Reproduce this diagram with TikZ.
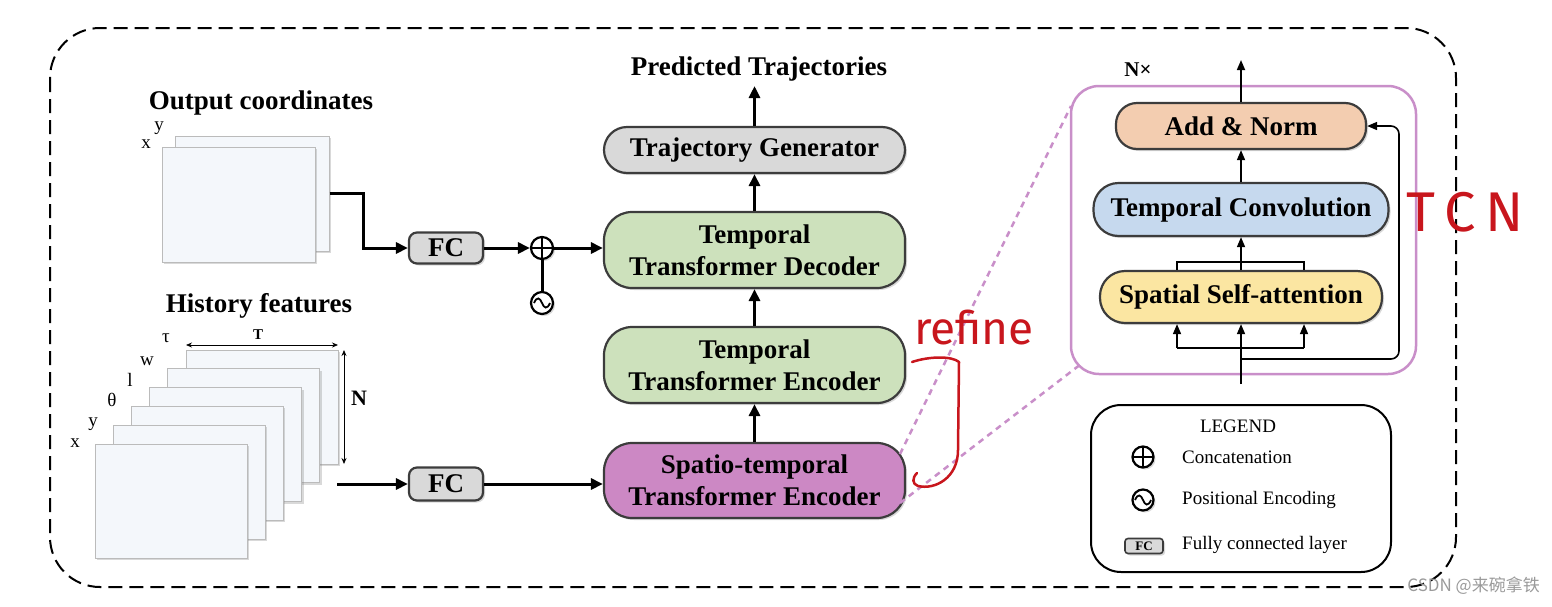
\documentclass[tikz,border=0pt]{standalone}
\usepackage{fontspec}
\setmainfont{Liberation Serif}
\newfontfamily\hand{Fira Sans}
\newfontfamily\cjk{Noto Sans CJK SC}
\usetikzlibrary{arrows.meta,shadows,calc}
\definecolor{bordc}{HTML}{3C3C3C}
\definecolor{planef}{HTML}{F4F7FB}
\definecolor{planeb}{HTML}{BBBBBB}
\definecolor{grayf}{HTML}{D9D9D9}
\definecolor{greenf}{HTML}{CDE1BC}
\definecolor{purplef}{HTML}{CC88C4}
\definecolor{peachf}{HTML}{F3CDB0}
\definecolor{bluef}{HTML}{C6D9EE}
\definecolor{yellowf}{HTML}{FBE6A2}
\definecolor{pinkc}{HTML}{C98FC9}
\definecolor{redc}{HTML}{C8161D}
\definecolor{wmark}{HTML}{9A9A9A}
\begin{document}
\begin{tikzpicture}[x=1pt,y=-1pt,
  shd/.style={drop shadow={shadow xshift=2pt,shadow yshift=-2pt,opacity=0.3}},
  blk/.style={draw=bordc,line width=2.2pt,align=center,inner sep=0pt,
    font=\bfseries\fontsize{27}{32}\selectfont,shd},
  plane/.style={draw=planeb,line width=1pt,fill=planef,inner sep=0pt,
    minimum width=152pt,minimum height=114pt,shd},
  lbl/.style={font=\fontsize{19}{22}\selectfont,inner sep=0pt},
  bigl/.style={font=\bfseries\fontsize{27}{30}\selectfont,inner sep=0pt},
  leg/.style={font=\fontsize{19}{22}\selectfont,inner sep=0pt,anchor=west},
  arr/.style={line width=3pt,-{Triangle[length=12pt,width=11pt]}},
  tarr/.style={line width=1.6pt,-{Triangle[length=10pt,width=8pt]}},
  darr/.style={line width=0.8pt,{Stealth[length=6pt,width=5pt]}-{Stealth[length=6pt,width=5pt]}},
  concat/.style={circle,draw=black,line width=2.2pt,minimum size=#1,inner sep=0pt,fill=white,shd,
    path picture={\draw[line width=2.2pt] (path picture bounding box.north) -- (path picture bounding box.south)
      (path picture bounding box.west) -- (path picture bounding box.east);}},
  posenc/.style={circle,draw=black,line width=2.2pt,minimum size=#1,inner sep=0pt,fill=white,shd,
    path picture={\draw[line width=1.8pt] ([xshift=-8pt]path picture bounding box.center)
      .. controls ([xshift=-5pt,yshift=7pt]path picture bounding box.center) and ([xshift=-2pt,yshift=5pt]path picture bounding box.center) .. (path picture bounding box.center)
      .. controls ([xshift=2pt,yshift=-5pt]path picture bounding box.center) and ([xshift=5pt,yshift=-7pt]path picture bounding box.center) .. ([xshift=8pt]path picture bounding box.center);}},
]
\useasboundingbox (0,0) rectangle (1552,606);

% outer dashed frame
\draw[line width=2pt,dash pattern=on 14pt off 7pt,rounded corners=50pt] (50,28) rectangle (1456,587);

% ---------- output coordinates ----------
\node[bigl] (toc) at (261,103) {Output coordinates};
\node[plane,minimum width=154pt,minimum height=115pt] (ob) at (252,193.5) {};
\node[plane,minimum width=153pt,minimum height=115pt] (of) at (238.5,204.5) {};
\node[lbl] (oy) at (159,128) {y};
\node[lbl] (ox) at (146,144) {x};

% ---------- history features ----------
\node[bigl] (thf) at (259,306) {History features};
\foreach \i in {0,...,5} {
  \node[plane] (h\i) at ({262-18.2*\i},{407+18.8*\i}) {};
}
\node[lbl] (ltau) at (166,338) {τ};
\node[lbl] (lw) at (147,361) {w};
\node[lbl] (ll) at (130,380) {l};
\node[lbl] (lth) at (112,400) {θ};
\node[lbl] (ly) at (93,424) {y};
\node[lbl] (lx) at (75,443) {x};
\coordinate (ta) at (186,345);
\coordinate (tb) at (338,345);
\draw[darr] (ta) -- (tb);
\node[font=\bfseries\fontsize{15}{18}\selectfont,inner sep=0pt] (lT) at (258,335) {T};
\coordinate (na) at (344,350);
\coordinate (nb) at (344,464);
\draw[darr] (na) -- (nb);
\node[font=\bfseries\fontsize{22}{26}\selectfont,inner sep=0pt] (lN) at (359,398) {N};

% ---------- central column ----------
\node[blk,fill=grayf,minimum width=74pt,minimum height=31pt,rounded corners=8pt] (fc1) at (446,248) {FC};
\node[blk,fill=grayf,minimum width=74pt,minimum height=33pt,rounded corners=8pt] (fc2) at (446,484) {FC};
\node[concat=22pt] (cat) at (542,248) {};
\node[posenc=22pt] (pe) at (542,303) {};

\node[blk,fill=grayf,minimum width=301pt,minimum height=46pt,rounded corners=23pt] (tg) at (754.5,150) {Trajectory Generator};
\node[blk,fill=greenf,minimum width=301pt,minimum height=76pt,rounded corners=28pt] (dec) at (754.5,250) {Temporal\\Transformer Decoder};
\node[blk,fill=greenf,minimum width=301pt,minimum height=76pt,rounded corners=28pt] (enc) at (754.5,365) {Temporal\\Transformer Encoder};
\node[blk,fill=purplef,minimum width=301pt,minimum height=75pt,rounded corners=28pt] (st) at (754.5,480.5) {Spatio-temporal\\Transformer Encoder};
\node[bigl] (pred) at (759,69) {Predicted Trajectories};
\coordinate (predb) at (754.5,86);

\draw[arr] (ob.east) -- ++(34,0) |- (fc1.west);
\draw[arr] (fc1.east) -- (cat.west);
\draw[line width=3pt] (pe.north) -- (cat.south);
\draw[arr] (cat.east) -- (cat.east -| dec.west);
\coordinate (hs) at (337,484);
\draw[arr] (hs) -- (fc2.west);
\draw[arr] (fc2.east) -- (fc2.east -| st.west);
\draw[arr] (st.north) -- (enc.south);
\draw[arr] (enc.north) -- (dec.south);
\draw[arr] (dec.north) -- (tg.south);
\draw[arr] (tg.north) -- (predb);

% ---------- zoom lines ----------
\coordinate (z1a) at (900,454);
\coordinate (z1b) at (1071,106);
\coordinate (z2a) at (900,503);
\coordinate (z2b) at (1081,364);
\draw[pinkc,line width=2.5pt,dash pattern=on 6pt off 5pt] (z1a) -- (z1b);
\draw[pinkc,line width=2.5pt,dash pattern=on 6pt off 5pt] (z2a) -- (z2b);

% ---------- right panel ----------
\node[draw=pinkc,line width=2.5pt,rounded corners=28pt,minimum width=345pt,minimum height=288pt,inner sep=0pt,fill=white] (nbox) at (1243.5,230) {};
\node[font=\bfseries\fontsize{21}{24}\selectfont,inner sep=0pt] (nx) at (1138,70) {N×};
\node[blk,fill=peachf,minimum width=250pt,minimum height=46pt,rounded corners=21pt] (an) at (1241,126) {Add \& Norm};
\node[blk,fill=bluef,minimum width=295pt,minimum height=53pt,rounded corners=25pt] (tc) at (1241,209.5) {Temporal Convolution};
\node[blk,fill=yellowf,minimum width=282pt,minimum height=52pt,rounded corners=25pt] (ssa) at (1241,297) {Spatial Self-attention};
\coordinate (outp) at (1241,60);
\coordinate (inp) at (1241,384);
\coordinate (bl) at (1177,348);
\coordinate (br) at (1304,348);
\coordinate (rb) at (1241,359);
\coordinate (rc) at (1399,359);
\coordinate (rd) at (1399,126);
\coordinate (kl) at (1177,262);
\coordinate (kr) at (1304,262);
\draw[tarr] (an.north) -- (outp);
\draw[tarr] (tc.north) -- (an.south);
\draw[tarr] (ssa.north) -- (tc.south);
\draw[line width=1.3pt] (ssa.north -| kl) -- (kl) -- (kr) -- (ssa.north -| kr);
\draw[tarr] (inp) -- (ssa.south);
\draw[line width=1.6pt] (bl) -- (br);
\draw[tarr] (bl) -- (ssa.south -| bl);
\draw[tarr] (br) -- (ssa.south -| br);
\draw[tarr,rounded corners=8pt] (rb) -- (rc) -- (rd) -- (an.east);

% ---------- legend ----------
\node[draw=black,line width=2pt,rounded corners=30pt,minimum width=300pt,minimum height=167pt,inner sep=0pt] (legend) at (1241,488.5) {};
\node[font=\fontsize{19}{22}\selectfont,inner sep=0pt] (legt) at (1238,426) {LEGEND};
\node[concat=21pt] (lcat) at (1143,457) {};
\node[posenc=21pt] (lpe) at (1143,500) {};
\node[draw=bordc,line width=1.6pt,fill=grayf,rounded corners=3pt,minimum width=38pt,minimum height=15pt,inner sep=0pt,
  font=\bfseries\fontsize{13}{14}\selectfont,shd] (lfc) at (1144,546) {FC};
\node[leg] (t1) at (1182,457) {Concatenation};
\node[leg] (t2) at (1182,500) {Positional Encoding};
\node[leg] (t3) at (1182,545) {Fully connected layer};

% ---------- red annotations ----------
\node[text=redc,font=\hand\fontsize{46}{48}\selectfont,inner sep=0pt] (refine) at (974,328) {refine};
\draw[redc,line width=2.5pt,line cap=round,line join=round]
  (912,362) .. controls (930,356) and (952,356) .. (959,362) -- (958,450)
  .. controls (958,478) and (935,490) .. (918,486) .. controls (912,484) and (912,478) .. (917,473);
\node[text=redc,font=\hand\fontsize{56}{60}\selectfont,inner sep=0pt] (tcn) at (1465,212) {T\,C\,N};

% ---------- watermark ----------
\node[text=wmark,font=\cjk\fontsize{17}{20}\selectfont,inner sep=0pt,anchor=east] (wm) at (1540,586) {CSDN @来碗拿铁};
\end{tikzpicture}
\end{document}
